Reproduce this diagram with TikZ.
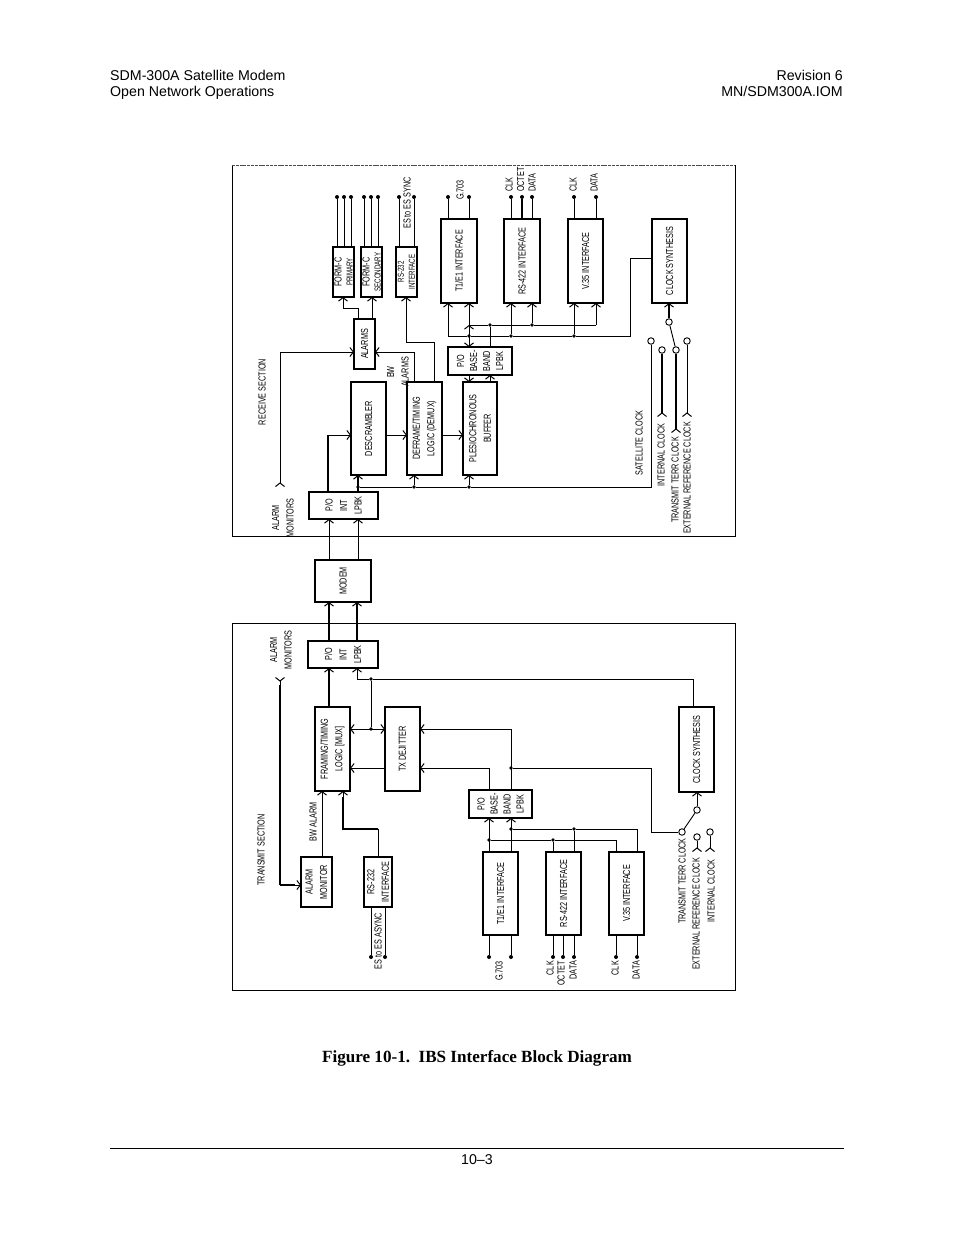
\documentclass[tikz,border=0pt]{standalone}
\usepackage{fontspec}
\setmainfont{Liberation Sans}
\newfontfamily\capfont{Liberation Serif}
\usetikzlibrary{arrows.meta}
\newcommand{\blk}[6]{\node[bbox,minimum width={#4pt-#2pt},minimum height={#5pt-#3pt}] (#1) at ({(#2+#4)/2},{(#3+#5)/2}) {};
  \draw[side] (#1.north west)--(#1.south west) (#1.north east)--(#1.south east);
  \node[lbl] (#1t) at (#1.center) {#6};}
\tikzset{
  x=1pt,y=-1pt,
  bbox/.style={draw,line width=1.3pt,inner sep=0pt,outer sep=0pt},
  side/.style={line width=1.8pt},
  thin line/.style={line width=.9pt},
  fat line/.style={line width=1.8pt},
  ar/.style={-{Straight Barb[length=3.5pt,width=9pt,line width=1pt]}},
  cv/.style={-{Straight Barb[reversed,length=3.5pt,width=9pt,line width=1pt]}},
  rr/.style={{Straight Barb[length=3.5pt,width=9pt,line width=1pt]}-{Straight Barb[length=3.5pt,width=9pt,line width=1pt]}},
  dotn/.style={circle,fill=black,inner sep=0pt,minimum size=3.6pt},
  pin/.style={circle,fill=black,inner sep=0pt,minimum size=4pt},
  sw/.style={circle,draw,fill=white,line width=.9pt,inner sep=0pt,minimum size=6.5pt},
  lbl/.style={inner sep=0pt,rotate=90,xscale=.71,font=\fontsize{10.2}{14.5}\selectfont,align=center},
  lbw/.style={lbl,anchor=west},
  lbe/.style={lbl,anchor=east},
  plain/.style={inner sep=0pt,font=\fontsize{14.2}{16}\selectfont},
}
\begin{document}
\begin{tikzpicture}
\useasboundingbox (0,0) rectangle (954,1235);
\fill[white] (0,0) rectangle (954,1235);
% page text
\node[plain,anchor=base west] (h1) at (110,80) {SDM-300A Satellite Modem};
\node[plain,anchor=base west] (h2) at (110,96) {Open Network Operations};
\node[plain,anchor=base east] (h3) at (843,80) {Revision 6};
\node[plain,anchor=base east] (h4) at (843,96) {MN/SDM300A.IOM};
\node[inner sep=0pt,font=\capfont\bfseries\fontsize{17.1}{19}\selectfont] (cap) at (477,1058) {Figure 10-1.\ \ IBS Interface Block Diagram};
\coordinate (fl) at (110,1148); \coordinate (fr) at (844,1148);
\draw[line width=.8pt] (fl)--(fr);
\node[plain] (pg) at (477,1160) {10–3};
% frames
\coordinate (ra) at (232,165); \coordinate (rb) at (735,165); \coordinate (rc) at (735,536); \coordinate (rd) at (232,536);
\draw[line width=.8pt] (rb)--(rc)--(rd)--(ra);
\draw[line width=.7pt,black!70,dash pattern=on 3pt off .8pt] (ra)--(rb);
\coordinate (ta) at (232,623); \coordinate (tb) at (735,623); \coordinate (tc) at (735,990); \coordinate (td) at (232,990);
\draw[line width=.8pt] (ta)--(tb)--(tc)--(td)--cycle;

% ---------- RECEIVE blocks
\blk{fcp}{333}{247}{354}{297}{FORM-C\\[-3.5pt]\scalebox{.85}{PRIMARY}}
\blk{fcs}{361}{247}{382}{297}{FORM-C\\[-3.5pt]\scalebox{.85}{SECONDARY}}
\blk{rrs}{396}{247}{417}{297}{\scalebox{.85}{RS-232}\\[-3.5pt]\scalebox{.85}{INTERFACE}}
\blk{rt1}{441}{219}{477}{303}{T1/E1 INTERFACE}
\blk{r42}{504}{219}{540}{303}{RS-422 INTERFACE}
\blk{rv3}{568}{219}{603}{303}{V.35 INTERFACE}
\blk{rcs}{652}{219}{687}{303}{CLOCK SYNTHESIS}
\blk{ral}{354}{319}{375}{369}{ALARMS}
\blk{rbb}{448}{347}{512}{375}{P/O\\[-1.5pt]BASE-\\[-1.5pt]BAND\\[-1.5pt]LPBK}
\blk{rds}{351}{382}{386}{475}{DESCRAMBLER}
\blk{rdf}{407}{382}{442}{475}{DEFRAME/TIMING\\LOGIC (DEMUX)}
\blk{rpl}{463}{382}{497}{475}{PLESIOCHRONOUS\\BUFFER}
\blk{rpo}{309}{492}{378}{519}{P/O\\INT\\LPBK}
\blk{mod}{315}{560}{371}{602}{MODEM}

% receive pins
\foreach \n/\x in {a1/337,a2/344,a3/351,a4/364,a5/371,a6/378,a7/399,a8/414,a9/448,a10/469,a11/511,a12/522,a13/532,a14/574,a15/596}
  \node[pin] (\n) at (\x,197) {};
\draw[fat line,line width=1pt] (a1)--(337,0 |- fcp.north) (a2)--(344,0 |- fcp.north) (a3)--(351,0 |- fcp.north)
  (a4)--(364,0 |- fcs.north) (a5)--(371,0 |- fcs.north) (a6)--(378,0 |- fcs.north);
\draw[thin line] (a7)--(399,0 |- rrs.north) (a8)--(414,0 |- rrs.north) (a9)--(448,0 |- rt1.north) (a10)--(469,0 |- rt1.north)
  (a11)--(511,0 |- r42.north) (a13)--(532,0 |- r42.north) (a14)--(574,0 |- rv3.north) (a15)--(596,0 |- rv3.north);
\draw[fat line] (a12)--(522,0 |- r42.north);

% receive bus and switch nodes
\node[dotn] (d1) at (469,336) {};
\node[dotn] (d2) at (511,336) {};
\node[dotn] (d3) at (574,336) {};
\node[dotn] (d4) at (490,325) {};
\node[dotn] (d5) at (532,325) {};
\node[dotn] (d6) at (358,487) {};
\node[dotn] (d7) at (414,487) {};
\node[dotn] (d8) at (469,487) {};
\node[sw] (s1) at (669,322) {};
\node[sw] (s2) at (651,341) {};
\node[sw] (s3) at (662,350) {};
\node[sw] (s4) at (676,350) {};
\node[sw] (s5) at (687,341) {};
\coordinate (v3) at (662,417); \coordinate (v4) at (676,433); \coordinate (v5) at (687,417);
\coordinate (amr) at (280,487); \coordinate (amrb) at (280,352);

\draw[thin line] (rcs.west |- 0,258)-|(630,336)--(d3)--(d2)--(d1)--(448,336);
\draw[thin line,ar] (448,336)--(448,0 |- rt1.south);
\draw[thin line,ar] (d2)--(511,0 |- r42.south);
\draw[thin line,ar] (d3)--(574,0 |- rv3.south);
\draw[thin line,rr] (469,0 |- rbb.north)--(469,325);
\draw[thin line,ar] (469,325)--(469,0 |- rt1.south);
\draw[thin line] (469,325)--(d4)--(d5)--(596,325);
\draw[thin line,ar] (596,325)--(596,0 |- rv3.south);
\draw[thin line,ar] (d5)--(532,0 |- r42.south);
\draw[thin line] (d4)--(490,0 |- rbb.north);
\draw[thin line,ar] (469,0 |- rbb.south)--(469,0 |- rpl.north);
\draw[thin line,ar] (490,0 |- rpl.north)--(490,0 |- rbb.south);
\draw[thin line] (s2)--(651,487)--(d8)--(d7)--(d6);
\draw[thin line,ar] (d7)--(414,0 |- rdf.south);
\draw[thin line,ar] (d8)--(469,0 |- rpl.south);
\draw[fat line,ar] (358,0 |- rpo.north)--(358,0 |- rds.south);
\draw[fat line] (328,0 |- rpo.north)--(328,435);
\draw[thin line,ar] (328,435)--(351,435);
\draw[thin line,ar] (rds.east |- 0,435)--(rdf.west |- 0,435);
\draw[thin line,ar] (rdf.east |- 0,435)--(rpl.west |- 0,435);
\draw[thin line,ar] (358,0 |- ral.north)|-(343,308)--(343,0 |- fcp.south);
\draw[thin line,ar] (372,0 |- ral.north)--(372,0 |- fcs.south);
\draw[thin line,ar] (434,0 |- rdf.north)|-(406,342)--(406,0 |- rrs.south);
\draw[thin line,ar] (414,0 |- rdf.north)|-(ral.east |- 0,352);
\draw[thin line,ar] (amrb)--(ral.west |- 0,352);
\draw[thin line,cv] (amrb)--(amr);
\draw[fat line,ar] (s1)--(669,0 |- rcs.south);
\draw[thin line] (s1)--(s4);
\draw[fat line,cv] (s3)--(v3);
\draw[fat line,cv] (s4)--(v4);
\draw[thin line,cv] (s5)--(v5);
% modem links
\draw[thin line,ar] (329,0 |- mod.north)--(329,0 |- rpo.south);
\draw[thin line,ar] (358,0 |- mod.north)--(358,0 |- rpo.south);

% receive labels
\node[lbl] (t1) at (262,392) {RECEIVE SECTION};
\node[lbl] (t2) at (283,518) {ALARM\\MONITORS};
\node[lbl] (t3) at (398,372) {BW\\ALARMS};
\node[lbl] (t4) at (407,203) {ES to ES SYNC};
\node[lbl] (t5) at (460,190) {G.703};
\node[lbw] (t6) at (509,192) {CLK};
\node[lbw] (t7) at (520.5,192) {OCTET};
\node[lbw] (t8) at (532,192) {DATA};
\node[lbw] (t9) at (573,192) {CLK};
\node[lbw] (t10) at (594,192) {DATA};
\node[lbl] (t11) at (639,443) {SATELLITE CLOCK};
\node[lbl] (t12) at (661,455) {INTERNAL CLOCK};
\node[lbl] (t13) at (675,480) {TRANSMIT TERR CLOCK};
\node[lbl] (t14) at (687,478) {EXTERNAL REFERENCE CLOCK};

% ---------- TRANSMIT blocks
\blk{tpo}{308}{641}{378}{668}{P/O\\INT\\LPBK}
\blk{tfr}{315}{707}{350}{791}{FRAMING/TIMING\\LOGIC [MUX]}
\blk{tdj}{385}{707}{420}{791}{TX DEJITTER}
\blk{tam}{301}{857}{332}{907}{ALARM\\MONITOR}
\blk{trs}{364}{857}{392}{907}{RS-232\\INTERFACE}
\blk{tbb}{469}{790}{532}{818}{P/O\\[-1.5pt]BASE-\\[-1.5pt]BAND\\[-1.5pt]LPBK}
\blk{tt1}{483}{852}{518}{935}{T1/E1 INTERFACE}
\blk{t42}{546}{852}{581}{935}{RS-422 INTERFACE}
\blk{tv3}{609}{852}{644}{935}{V.35 INTERFACE}
\blk{tcs}{679}{707}{714}{792}{CLOCK SYNTHESIS}

\draw[fat line,ar] (329,0 |- tpo.north)--(329,0 |- mod.south);
\draw[fat line,ar] (357,0 |- tpo.north)--(357,0 |- mod.south);
\draw[fat line,ar] (329,0 |- tfr.north)--(329,0 |- tpo.south);
\node[dotn] (e1) at (371,679) {};
\node[dotn] (e2) at (371,729) {};
\node[dotn] (e3) at (511,768) {};
\node[dotn] (e4) at (489,840) {};
\node[dotn] (e5) at (553,840) {};
\node[dotn] (e6) at (511,829) {};
\node[dotn] (e7) at (574,829) {};
\draw[thin line,ar] (e1)-|(357,0 |- tpo.south);
\draw[thin line] (693,0 |- tcs.north)|-(e1)--(e2);
\draw[thin line,rr] (tfr.east |- e2)--(tdj.west |- e2);
\draw[thin line,ar] (tdj.west |- 0,768)--(tfr.east |- 0,768);
\draw[thin line,ar] (511,0 |- tbb.north)|-(tdj.east |- 0,729);
\draw[thin line,ar] (489,0 |- tbb.north)|-(tdj.east |- 0,768);
\node[sw] (w1) at (697,810) {};
\node[sw] (w2) at (682,832) {};
\node[sw] (w3) at (697,837) {};
\node[sw] (w4) at (710,832) {};
\coordinate (wv3) at (697,852); \coordinate (wv4) at (710,852);
\draw[thin line] (e3)-|(651,832)--(w2);
\draw[thin line] (w2)--(w1);
\draw[thin line,line width=1pt,ar] (w1)--(697,0 |- tcs.south);
\draw[thin line,cv] (w3)--(wv3);
\draw[thin line,cv] (w4)--(wv4);
\draw[thin line,ar] (489,0 |- tt1.north)--(489,0 |- tbb.south);
\draw[thin line,ar] (511,0 |- tt1.north)--(511,0 |- tbb.south);
\draw[thin line] (e4)--(e5)-|(616,0 |- tv3.north);
\draw[thin line] (e5)--(553,0 |- t42.north);
\draw[thin line] (e6)--(e7)-|(637,0 |- tv3.north);
\draw[thin line] (e7)--(574,0 |- t42.north);
\coordinate (amt) at (280,677);
\draw[fat line] (280,885)--(280,685);
\draw[thin line,cv] (280,685)--(amt);
\draw[fat line] (280,885)--(295,885);
\draw[thin line,ar] (295,885)--(tam.west |- 0,885);
\draw[thin line,ar] (322,0 |- tam.north)--(322,0 |- tfr.south);
\draw[thin line] (378,0 |- trs.north)|-(343,829);
\draw[fat line] (378,829)--(343,829)--(343,797);
\draw[thin line,ar] (343,800)--(343,0 |- tfr.south);
\foreach \n/\x in {b1/371,b2/385,b3/489,b4/511,b5/553,b6/563,b7/574,b8/616,b9/637}
  \node[pin] (\n) at (\x,957) {};
\draw[thin line] (b1)--(371,0 |- trs.south) (b2)--(385,0 |- trs.south)
  (b3)--(489,0 |- tt1.south) (b4)--(511,0 |- tt1.south)
  (b5)--(553,0 |- t42.south) (b6)--(563,0 |- t42.south) (b7)--(574,0 |- t42.south)
  (b8)--(616,0 |- tv3.south) (b9)--(637,0 |- tv3.south);

\node[lbl] (u1) at (281,650) {ALARM\\MONITORS};
\node[lbl] (u2) at (261,850) {TRANSMIT SECTION};
\node[lbl] (u3) at (313,822) {BW ALARM};
\node[lbl] (u4) at (378,941) {ES to ES ASYNC};
\node[lbe] (u5) at (499,961) {G.703};
\node[lbe] (u6) at (550,961) {CLK};
\node[lbe] (u7) at (561,961) {OCTET};
\node[lbe] (u8) at (573,961) {DATA};
\node[lbe] (u9) at (615,961) {CLK};
\node[lbe] (u10) at (636,961) {DATA};
\node[lbl] (u11) at (682,881) {TRANSMIT TERR CLOCK};
\node[lbl] (u12) at (696,914) {EXTERNAL REFERENCE CLOCK};
\node[lbl] (u13) at (711,891) {INTERNAL CLOCK};
\end{tikzpicture}
\end{document}
